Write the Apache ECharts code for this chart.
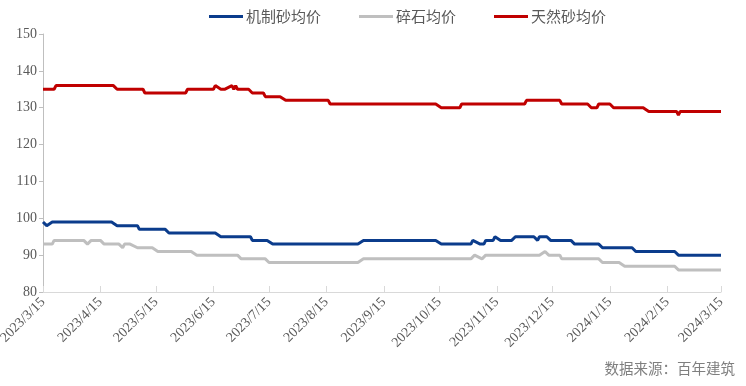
<!DOCTYPE html>
<html><head><meta charset="utf-8">
<script src="https://cdn.jsdelivr.net/npm/echarts@6/dist/echarts.min.js"></script>
<style>html,body{margin:0;padding:0;background:#fff}#c{width:746px;height:386px}</style>
</head><body><div id="c"></div>
<script>
const seriesNames = ['机制砂均价', '碎石均价', '天然砂均价'];
const seriesColors = ['#0B3C8C', '#BFBFBF', '#C00000'];
const xTickDates = ['2023-03-15','2023-04-15','2023-05-15','2023-06-15','2023-07-15','2023-08-15','2023-09-15','2023-10-15','2023-11-15','2023-12-15','2024-01-15','2024-02-15','2024-03-15'];
const yTicks = [80, 90, 100, 110, 120, 130, 140, 150];
const sourceText = '数据来源：百年建筑';

const machineSand = [
 ['2023-03-15',99],['2023-03-17',98],['2023-03-20',99],['2023-04-21',99],['2023-04-24',98],
 ['2023-05-05',98],['2023-05-06',97],['2023-05-20',97],['2023-05-22',96],['2023-06-16',96],
 ['2023-06-19',95],['2023-07-05',95],['2023-07-06',94],['2023-07-14',94],['2023-07-17',93],
 ['2023-09-01',93],['2023-09-04',94],['2023-10-13',94],['2023-10-16',93],['2023-11-01',93],
 ['2023-11-02',94],['2023-11-03',94],['2023-11-06',93],['2023-11-08',93],['2023-11-09',94],
 ['2023-11-13',94],['2023-11-14',95],['2023-11-15',95],['2023-11-17',94],['2023-11-23',94],
 ['2023-11-25',95],['2023-12-05',95],['2023-12-07',94],['2023-12-08',95],['2023-12-12',95],
 ['2023-12-14',94],['2023-12-25',94],['2023-12-27',93],['2024-01-09',93],['2024-01-11',92],
 ['2024-01-27',92],['2024-01-29',91],['2024-02-19',91],['2024-02-21',90],['2024-03-15',90]
];
const crushedStone = [
 ['2023-03-15',93],['2023-03-20',93],['2023-03-21',94],['2023-04-06',94],['2023-04-08',93],
 ['2023-04-10',94],['2023-04-15',94],['2023-04-17',93],['2023-04-25',93],['2023-04-27',92],
 ['2023-04-28',93],['2023-05-01',93],['2023-05-05',92],['2023-05-13',92],['2023-05-16',91],
 ['2023-06-03',91],['2023-06-06',90],['2023-06-28',90],['2023-06-30',89],['2023-07-13',89],
 ['2023-07-15',88],['2023-09-01',88],['2023-09-04',89],['2023-11-01',89],['2023-11-03',90],
 ['2023-11-07',89],['2023-11-09',90],['2023-12-08',90],['2023-12-11',91],['2023-12-13',90],
 ['2023-12-19',90],['2023-12-20',89],['2024-01-09',89],['2024-01-11',88],['2024-01-20',88],
 ['2024-01-23',87],['2024-02-19',87],['2024-02-21',86],['2024-03-15',86]
];
const naturalSand = [
 ['2023-03-15',135],['2023-03-21',135],['2023-03-22',136],['2023-04-22',136],['2023-04-24',135],
 ['2023-05-08',135],['2023-05-09',134],['2023-05-31',134],['2023-06-01',135],['2023-06-15',135],
 ['2023-06-16',136],['2023-06-19',135],['2023-06-21',135],['2023-06-25',136],['2023-06-26',135],
 ['2023-06-27',136],['2023-06-28',135],['2023-07-04',135],['2023-07-06',134],['2023-07-12',134],
 ['2023-07-13',133],['2023-07-21',133],['2023-07-24',132],['2023-08-16',132],['2023-08-17',131],
 ['2023-10-13',131],['2023-10-16',130],['2023-10-26',130],['2023-10-27',131],['2023-11-30',131],
 ['2023-12-01',132],['2023-12-19',132],['2023-12-20',131],['2024-01-03',131],['2024-01-05',130],
 ['2024-01-08',130],['2024-01-09',131],['2024-01-15',131],['2024-01-17',130],['2024-02-02',130],
 ['2024-02-05',129],['2024-02-20',129],['2024-02-21',128],['2024-02-22',129],['2024-03-15',129]
];

// convert dates to day offsets from the first tick date
function dayNum(s){ const p = s.split('-').map(Number); return Date.UTC(p[0], p[1]-1, p[2]) / 86400000; }
const day0 = dayNum(xTickDates[0]);
const toPts = arr => arr.map(d => [dayNum(d[0]) - day0, d[1]]);
const tickVals = xTickDates.map(s => dayNum(s) - day0);
const tickLabel = {};
xTickDates.forEach((s, i) => { const p = s.split('-').map(Number); tickLabel[tickVals[i]] = p[0] + '/' + p[1] + '/' + p[2]; });

const chart = echarts.init(document.getElementById('c'), null, {renderer:'canvas'});
const serif = '"Liberation Serif", "Times New Roman", serif';
const cjk = '"Noto Sans CJK SC", sans-serif';
const allData = [machineSand, crushedStone, naturalSand];
chart.setOption({
  animation:false,
  backgroundColor:'#fff',
  legend:{
    top:4, left:204, itemWidth:34, itemHeight:3, itemGap:38, icon:'rect',
    textStyle:{color:'#595959', fontSize:15, fontFamily:cjk, padding:[0,0,0,-2]},
    data:seriesNames
  },
  grid:{left:43, right:25, top:34, bottom:94, containLabel:false, outerBoundsMode:'none'},
  xAxis:{
    type:'value', min:tickVals[0], max:tickVals[tickVals.length-1],
    axisLine:{lineStyle:{color:'#D9D9D9', width:1}},
    axisTick:{show:true, inside:true, length:6, lineStyle:{color:'#D9D9D9'}, customValues:tickVals},
    splitLine:{show:false},
    axisLabel:{
      rotate:45, color:'#595959', fontSize:14, fontFamily:serif, margin:8,
      customValues:tickVals,
      formatter:function(v){ return tickLabel[v] || ''; }
    }
  },
  yAxis:{
    type:'value', min:yTicks[0], max:yTicks[yTicks.length-1], interval:10,
    axisLine:{show:true, lineStyle:{color:'#BFBFBF'}},
    axisTick:{show:true, length:4, lineStyle:{color:'#BFBFBF'}},
    splitLine:{show:false},
    axisLabel:{color:'#595959', fontSize:14, fontFamily:serif, margin:6}
  },
  graphic:[{
    type:'text', right:11, top:361,
    style:{text:sourceText, fill:'#7F7F7F', font:'14.5px '+cjk}
  }],
  series: seriesNames.map((n,i)=>({
    name:n, type:'line', data:toPts(allData[i]), showSymbol:false, symbol:'none',
    lineStyle:{color:seriesColors[i], width:3}, itemStyle:{color:seriesColors[i]}
  }))
});
</script></body></html>
